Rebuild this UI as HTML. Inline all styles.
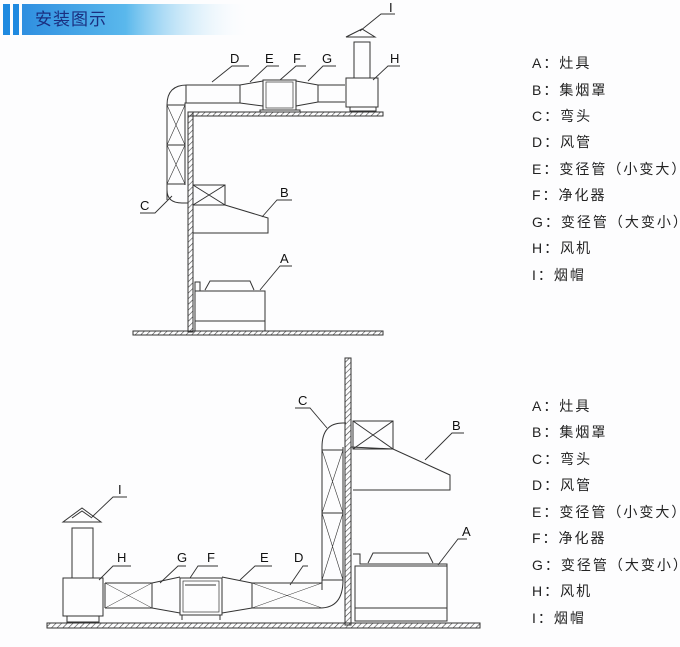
<!DOCTYPE html>
<html><head><meta charset="utf-8"><style>
html,body{margin:0;padding:0;background:#fdfdfe;}
svg{display:block;}
text{font-family:"Liberation Sans","Noto Sans CJK SC",sans-serif;}
</style></head><body>
<svg width="680" height="647" viewBox="0 0 680 647" xmlns="http://www.w3.org/2000/svg">
<defs>
<linearGradient id="hg" x1="0" x2="1" y1="0" y2="0">
<stop offset="0" stop-color="#2f8fe0"/><stop offset="0.45" stop-color="#5ab8ec"/><stop offset="1" stop-color="#ffffff" stop-opacity="0"/>
</linearGradient>
<pattern id="hatch" width="4" height="4" patternUnits="userSpaceOnUse" patternTransform="rotate(45)">
<line x1="0" y1="0" x2="0" y2="4" stroke="#444" stroke-width="1.2"/>
</pattern>
</defs>
<rect width="680" height="647" fill="#fdfdfe"/>
<rect x="3" y="4" width="7" height="31" fill="#1f8ae0"/>
<rect x="13" y="4" width="6" height="31" fill="#1f8ae0"/>
<rect x="22" y="4" width="230" height="31" fill="url(#hg)"/>
<text x="35" y="25" font-size="17" fill="#1a2f80" letter-spacing="1">安装图示</text>

<g fill="none" stroke="#333" stroke-width="1">
<rect x="188" y="112" width="195" height="4" fill="url(#hatch)"/>
<rect x="188" y="112" width="5" height="220" fill="url(#hatch)"/>
<rect x="133" y="331" width="250" height="4" fill="url(#hatch)"/>
<path d="M167,200 L167,105 Q167,85 187,85 L240,85"/>
<path d="M185,185 L185,103 L240,103"/>
<line x1="167" y1="105" x2="185" y2="105"/>
<line x1="167" y1="145" x2="185" y2="145"/>
<line x1="167" y1="184" x2="185" y2="184"/>
<path d="M167,105 L185,145 M185,105 L167,145 M167,145 L185,184 M185,145 L167,184" stroke-width="0.6"/>
<path d="M167,184 L167,190 Q167,203 182,203 L188,203"/>
<line x1="186" y1="85" x2="186" y2="103"/>
<path d="M240,85 L240,103 M240,85 L263,81 M240,103 L263,106"/>
<rect x="263" y="80" width="33" height="30"/>
<rect x="266" y="82" width="27" height="26" stroke-width="0.7"/>
<rect x="260" y="110" width="40" height="2"/>
<path d="M296,81 L318,85 L345,85 M296,106 L318,102 L345,102 M318,85 L318,102"/>
<rect x="346" y="78" width="32" height="29"/>
<rect x="350" y="107" width="26" height="4"/>
<rect x="354" y="42" width="16" height="36"/>
<path d="M346,37 L375,37 L362,29 Z"/>
<rect x="193" y="185" width="32" height="20"/>
<path d="M193,185 L225,205 M225,185 L193,205"/>
<path d="M225,205 L268,218 L268,233 L193,233"/>
<rect x="195" y="291" width="70" height="40"/>
<line x1="195" y1="321" x2="265" y2="321"/>
<path d="M195,291 L195,282 L200,282 L200,291"/>
<path d="M205,290 L210,281 L250,281 L254,290"/>
<g stroke-width="0.9">
<path d="M212,82 L232,66 L249,66"/>
<path d="M250,82 L267,66 L279,66"/>
<path d="M280,80 L296,66 L306,66"/>
<path d="M308,81 L323,66 L336,66"/>
<path d="M373,80 L388,66 L400,66"/>
<path d="M360,31 L381,14 L395,14"/>
<path d="M172,196 L155,213 L140,213"/>
<path d="M262,217 L277,200 L292,200"/>
<path d="M260,290 L280,266 L292,266"/>
</g>

<rect x="345" y="358" width="6" height="267" fill="url(#hatch)"/>
<rect x="47" y="623" width="433" height="5" fill="url(#hatch)"/>
<path d="M322,590 L322,447 Q322,423 343,423 L346,423"/>
<path d="M343,447 L343,582"/>
<line x1="322" y1="450" x2="343" y2="450"/>
<line x1="322" y1="513" x2="343" y2="513"/>
<line x1="322" y1="580" x2="343" y2="580"/>
<path d="M322,450 L343,513 M343,450 L322,513 M322,513 L343,580 M343,513 L322,580" stroke-width="0.6"/>
<path d="M343,580 Q343,608 320,608 L252,608"/>
<path d="M252,583 L322,583"/>
<line x1="252" y1="583" x2="252" y2="608"/>
<path d="M252,583 L322,608 M322,583 L252,608" stroke-width="0.5"/>
<path d="M222,577 L252,583 M222,613 L252,608"/>
<rect x="180" y="578" width="42" height="37"/>
<rect x="183" y="581" width="36" height="31" stroke-width="0.7"/>
<line x1="185" y1="585" x2="216" y2="585"/>
<path d="M182,615 L182,620 M220,615 L220,620"/>
<path d="M180,577 L152,583 M180,613 L152,608 M152,583 L152,608"/>
<path d="M105,583 L152,583 M105,608 L152,608 M105,583 L105,608"/>
<path d="M105,583 L152,608 M152,583 L105,608" stroke-width="0.5"/>
<rect x="63" y="578" width="40" height="38"/>
<rect x="67" y="616" width="32" height="6"/>
<rect x="72" y="528" width="21" height="50"/>
<path d="M63,522 L101,522 L82,508 Z"/>
<path d="M72,518 L82,511 L92,518"/>
<rect x="353" y="421" width="40" height="28"/>
<path d="M353,421 L393,449 M393,421 L353,449"/>
<path d="M351,447 L393,449 L450,475 L450,490 L353,490"/>
<rect x="355" y="566" width="92" height="55"/>
<line x1="355" y1="608" x2="447" y2="608"/>
<path d="M353,554 L360,554 L360,564 L447,564 L447,566"/>
<path d="M368,563 L373,553 L428,553 L433,563"/>
<g stroke-width="0.9">
<path d="M327,428 L310,408 L295,408"/>
<path d="M425,460 L452,433 L464,433"/>
<path d="M438,565 L458,539 L467,539"/>
<path d="M92,517 L113,497 L127,497"/>
<path d="M99,580 L113,566 L131,566"/>
<path d="M160,583 L178,566 L186,566"/>
<path d="M190,578 L198,566 L218,566"/>
<path d="M240,580 L255,566 L272,566"/>
<path d="M290,585 L303,566 L308,566"/>
</g>
</g>

<g font-size="13" fill="#111">
<text x="230" y="63">D</text><text x="265" y="63">E</text><text x="293" y="63">F</text><text x="322" y="63">G</text><text x="390" y="63">H</text>
<text x="389" y="12">I</text><text x="140" y="210">C</text><text x="280" y="197">B</text><text x="280" y="263">A</text>
<text x="298" y="405">C</text><text x="452" y="430">B</text><text x="462" y="536">A</text>
<text x="118" y="494">I</text><text x="117" y="562">H</text><text x="177" y="562">G</text><text x="207" y="562">F</text><text x="260" y="562">E</text><text x="294" y="562">D</text>
</g>

<g font-size="14" fill="#222" letter-spacing="2">
<text x="532" y="68">A：灶具</text>
<text x="532" y="95">B：集烟罩</text>
<text x="532" y="121">C：弯头</text>
<text x="532" y="147">D：风管</text>
<text x="532" y="174">E：变径管（小变大）</text>
<text x="532" y="200">F：净化器</text>
<text x="532" y="227">G：变径管（大变小）</text>
<text x="532" y="253">H：风机</text>
<text x="532" y="280">I：烟帽</text>
<text x="532" y="411">A：灶具</text>
<text x="532" y="437">B：集烟罩</text>
<text x="532" y="464">C：弯头</text>
<text x="532" y="490">D：风管</text>
<text x="532" y="517">E：变径管（小变大）</text>
<text x="532" y="543">F：净化器</text>
<text x="532" y="570">G：变径管（大变小）</text>
<text x="532" y="596">H：风机</text>
<text x="532" y="623">I：烟帽</text>
</g>
</svg>
</body></html>
